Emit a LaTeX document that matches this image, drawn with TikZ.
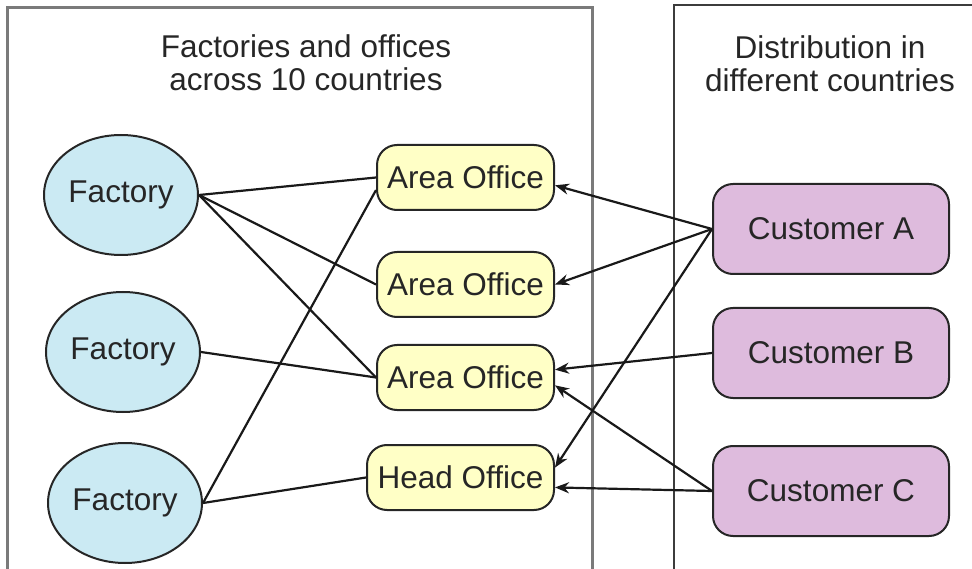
\documentclass[tikz,border=0pt]{standalone}
\usepackage{fontspec}
\setmainfont{Liberation Sans}
\usetikzlibrary{arrows.meta,shapes.geometric}
\definecolor{factoryfill}{HTML}{CBEAF3}
\definecolor{officefill}{HTML}{FFFFC6}
\definecolor{customerfill}{HTML}{DEBBDD}
\definecolor{panelgray}{HTML}{7A7A7A}
\definecolor{paneldark}{HTML}{3C3C3C}
\tikzset{
  txt/.style={font=\fontsize{31.5}{33}\selectfont, text=black!85},
  factory/.style={txt, ellipse, draw=black!85, line width=2pt, fill=factoryfill,
    minimum width=154pt, minimum height=120pt, inner sep=0pt},
  office/.style={txt, rectangle, rounded corners=20pt, draw=black!85, line width=2pt,
    fill=officefill, minimum height=65pt, inner sep=0pt},
  customer/.style={txt, rectangle, rounded corners=20pt, draw=black!85, line width=2pt,
    fill=customerfill, minimum width=236pt, minimum height=90pt, inner sep=0pt},
  link/.style={line width=2.2pt, draw=black!90},
  feed/.style={link, -{Stealth[length=14pt,width=11pt]}},
  heading/.style={txt, align=center}
}
\begin{document}
\begin{tikzpicture}[x=1pt, y=-1pt]
\useasboundingbox (0,0) rectangle (972,569);
\clip (0,0) rectangle (972,569);

% panels
\draw[panelgray, line width=3pt] (7,575) -- (7,8) -- (592,8) -- (592,575);
\draw[paneldark, line width=2.5pt] (674,575) -- (674,5) -- (985,5);

% panel headings
\node[heading] (hleft) at (306,63) {Factories and offices\\across 10 countries};
\node[heading] (hright) at (830,64) {Distribution in\\different countries};

% factories
\node[factory] (f1) at (121,195) {Factory};
\node[factory] (f2) at (123,352) {Factory};
\node[factory] (f3) at (125,503) {Factory};

% offices
\node[office, minimum width=177pt] (a1) at (465.5,177.5) {Area Office};
\node[office, minimum width=177pt] (a2) at (465.5,284.5) {Area Office};
\node[office, minimum width=177pt] (a3) at (465.5,377.5) {Area Office};
\node[office, minimum width=187pt] (ho) at (460.5,477.5) {Head Office};

% customers
\node[customer] (ca) at (831,229) {Customer A};
\node[customer] (cb) at (831,353) {Customer B};
\node[customer] (cc) at (831,491) {Customer C};

% factory to office links
\draw[link] (f1.east) -- (a1.west);
\draw[link] (f1.east) -- (a2.west);
\draw[link] (f1.east) -- (a3.west);
\draw[link] (f2.east) -- (a3.west);
\draw[link] (f3.east) -- (a1.188);
\draw[link] (f3.east) -- (ho.west);

% customer to office links
\draw[feed] (ca.west) -- (a1.-5);
\draw[feed] (ca.west) -- (a2.east);
\draw[feed] (ca.west) -- (ho.6);
\draw[feed] (cb.west) -- (a3.5);
\draw[feed] (cc.west) -- (a3.-5);
\draw[feed] (cc.west) -- (ho.-6);
\end{tikzpicture}
\end{document}
